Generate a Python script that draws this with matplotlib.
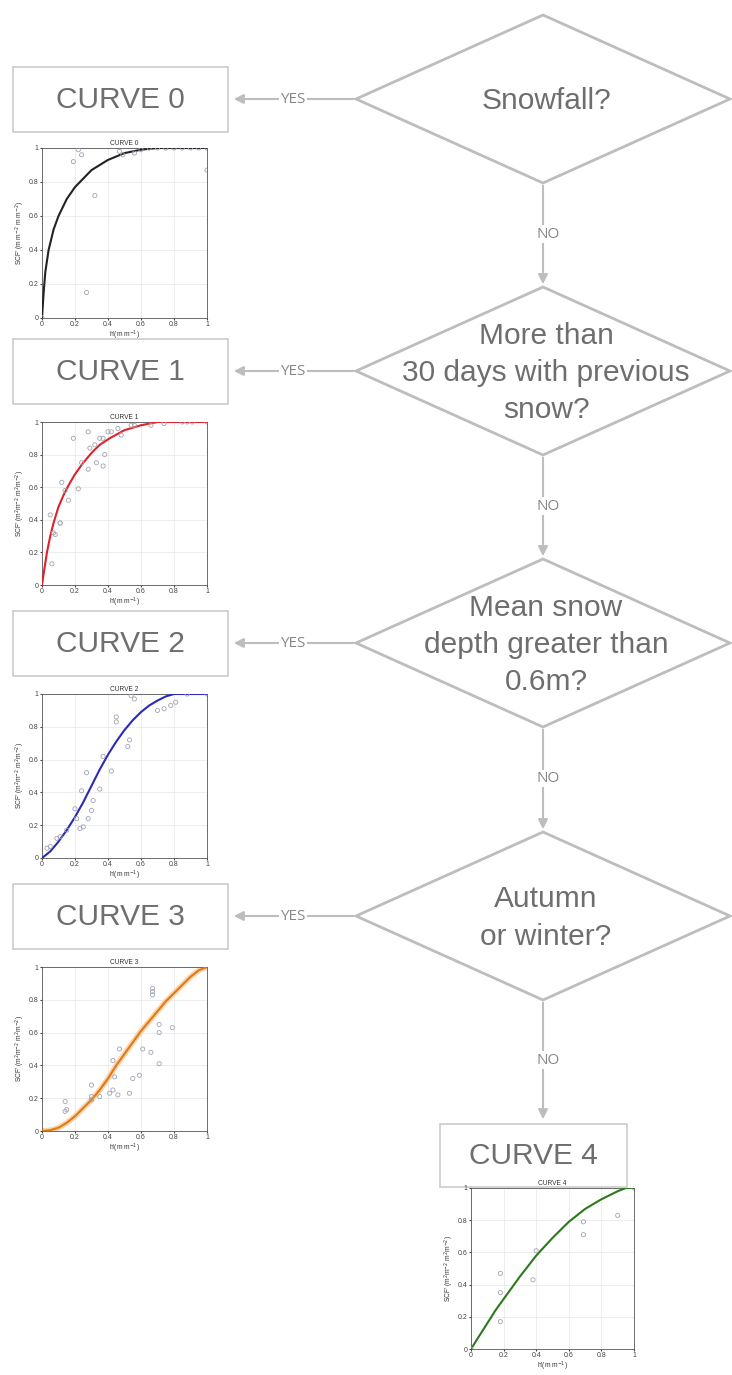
import matplotlib
matplotlib.use('Agg')
import matplotlib.pyplot as plt
from matplotlib.patches import Polygon, Rectangle

plt.rcParams['font.family'] = ['Liberation Sans', 'DejaVu Sans']

W, H = 732, 1375

# flowchart texts
questions = ['Snowfall?', 'More than\n30 days with previous\nsnow?',
             'Mean snow\ndepth greater than\n0.6m?', 'Autumn\nor winter?']
curve_names = ['CURVE 0', 'CURVE 1', 'CURVE 2', 'CURVE 3', 'CURVE 4']
line_colors = ['#222222', '#e0202a', '#2a2ab8', '#e07a18', '#2a7a1a']

# fitted curves
c0_x = [0, 0.01, 0.02, 0.04, 0.07, 0.1, 0.15, 0.2, 0.25, 0.3, 0.35, 0.4, 0.5, 0.6, 0.7, 1.0]
c0_y = [0, 0.15, 0.27, 0.4, 0.52, 0.6, 0.7, 0.77, 0.82, 0.87, 0.9, 0.93, 0.97, 0.99, 1.0, 1.0]
c1_x = [0, 0.01, 0.03, 0.05, 0.07, 0.1, 0.13, 0.16, 0.2, 0.25, 0.3, 0.35, 0.41, 0.5, 0.6, 0.7, 0.8, 1.0]
c1_y = [0, 0.07, 0.2, 0.3, 0.38, 0.48, 0.55, 0.61, 0.68, 0.75, 0.81, 0.86, 0.9, 0.95, 0.98, 1.0, 1.0, 1.0]
c2_x = [0, 0.05, 0.1, 0.15, 0.2, 0.25, 0.3, 0.35, 0.4, 0.45, 0.5, 0.55, 0.6, 0.65, 0.7, 0.75, 0.8, 0.85, 1.0]
c2_y = [0.0, 0.04, 0.1, 0.17, 0.25, 0.34, 0.44, 0.54, 0.63, 0.71, 0.78, 0.84, 0.89, 0.93, 0.96, 0.985, 1.0, 1.0, 1.0]
c3_x = [0, 0.05, 0.1, 0.15, 0.2, 0.25, 0.3, 0.35, 0.4, 0.45, 0.5, 0.55, 0.6, 0.65, 0.7, 0.75, 0.8, 0.85, 0.9, 0.95, 1.0]
c3_y = [0, 0.005, 0.02, 0.05, 0.09, 0.14, 0.19, 0.25, 0.32, 0.4, 0.47, 0.54, 0.61, 0.67, 0.73, 0.79, 0.84, 0.89, 0.94, 0.98, 1.0]
c4_x = [0, 0.05, 0.1, 0.15, 0.2, 0.25, 0.3, 0.4, 0.5, 0.6, 0.7, 0.8, 0.9, 0.95, 1.0]
c4_y = [0, 0.08, 0.16, 0.24, 0.31, 0.38, 0.45, 0.58, 0.69, 0.79, 0.87, 0.93, 0.98, 1.0, 1.0]

# observations
s0_x = [0, 0.19, 0.22, 0.24, 0.32, 0.27, 0.47, 0.49, 0.56, 0.6, 0.65, 0.7, 0.75, 0.8, 0.85, 0.9, 0.95, 1.0, 1.0]
s0_y = [0, 0.92, 0.99, 0.96, 0.72, 0.15, 0.98, 0.96, 0.97, 0.99, 1.0, 1.0, 1.0, 1.0, 1.0, 1.0, 1.0, 1.0, 0.87]
s1_x = [0.06, 0.08, 0.11, 0.05, 0.07, 0.11, 0.12, 0.14, 0.16, 0.19, 0.22, 0.24, 0.28, 0.28, 0.29, 0.32, 0.33,
        0.35, 0.37, 0.38, 0.37, 0.4, 0.42, 0.46, 0.48, 0.54, 0.56, 0.66, 0.74, 0.85, 0.88, 0.91, 1.0]
s1_y = [0.13, 0.31, 0.38, 0.43, 0.32, 0.38, 0.63, 0.58, 0.52, 0.9, 0.59, 0.75, 0.94, 0.71, 0.84, 0.86, 0.75,
        0.9, 0.9, 0.8, 0.73, 0.94, 0.94, 0.96, 0.92, 0.98, 0.98, 0.98, 0.99, 1.0, 1.0, 1.0, 1.0]
s2_x = [0.54, 0.56, 0.45, 0.45, 0.52, 0.53, 0.37, 0.42, 0.27, 0.24, 0.35, 0.31, 0.3, 0.2, 0.21, 0.28, 0.23,
        0.25, 0.11, 0.09, 0.05, 0.03, 0.7, 0.74, 0.78, 0.81, 0.88, 1.0, 0.15]
s2_y = [0.99, 0.97, 0.86, 0.83, 0.68, 0.72, 0.62, 0.53, 0.52, 0.41, 0.42, 0.35, 0.29, 0.3, 0.24, 0.24, 0.18,
        0.19, 0.13, 0.12, 0.07, 0.06, 0.9, 0.91, 0.93, 0.95, 1.0, 1.0, 0.17]
s3_x = [0.67, 0.67, 0.67, 0.71, 0.71, 0.79, 0.61, 0.66, 0.71, 0.47, 0.43, 0.59, 0.55, 0.44, 0.3, 0.3, 0.3,
        0.35, 0.41, 0.43, 0.46, 0.53, 0.14, 0.15, 0.14]
s3_y = [0.87, 0.85, 0.83, 0.65, 0.6, 0.63, 0.5, 0.48, 0.41, 0.5, 0.43, 0.34, 0.32, 0.33, 0.28, 0.21, 0.19,
        0.21, 0.23, 0.25, 0.22, 0.23, 0.18, 0.13, 0.12]
s4_x = [0.0, 0.18, 0.18, 0.18, 0.38, 0.4, 0.69, 0.69, 0.9, 1.0]
s4_y = [0.0, 0.47, 0.35, 0.17, 0.43, 0.61, 0.79, 0.71, 0.83, 1.0]

curves = [(c0_x, c0_y), (c1_x, c1_y), (c2_x, c2_y), (c3_x, c3_y), (c4_x, c4_y)]
scatters = [(s0_x, s0_y), (s1_x, s1_y), (s2_x, s2_y), (s3_x, s3_y), (s4_x, s4_y)]
ylabels = ["SCF' (m m$^{-2}$ m m$^{-2}$)"] + ["SCF' (m$^2$m$^{-2}$ m$^2$m$^{-2}$)"] * 4
ticks = [0, 0.2, 0.4, 0.6, 0.8, 1]
tick_labels = ['0', '0.2', '0.4', '0.6', '0.8', '1']

fig = plt.figure(figsize=(W / 100, H / 100), dpi=100)
ax = fig.add_axes([0, 0, 1, 1])
ax.set_xlim(0, W)
ax.set_ylim(H, 0)
ax.axis('off')

grey = '#bdbdbd'
txt = '#6e6e6e'

# diamonds
d_cx, d_half_w, d_half_h = 543, 187, 84
d_cy = [99, 371, 643, 916]
for q, cy in zip(questions, d_cy):
    pts = [(d_cx, cy - d_half_h), (d_cx + d_half_w, cy), (d_cx, cy + d_half_h), (d_cx - d_half_w, cy)]
    ax.add_patch(Polygon(pts, closed=True, fill=False, ec=grey, lw=2))
    ax.text(d_cx + 3, cy + 2, q, ha='center', va='center', fontsize=21.5, color=txt, linespacing=1.42)

# left boxes
box_x0, box_x1 = 13, 228
for name, cy in zip(curve_names[:4], d_cy):
    ax.add_patch(Rectangle((box_x0, cy - 32), box_x1 - box_x0, 65, fill=False, ec='#cccccc', lw=1.2))
    ax.text((box_x0 + box_x1) / 2, cy + 1, name, ha='center', va='center', fontsize=21.5, color=txt)
    # YES arrow
    ax.annotate('', xy=(box_x1 + 3, cy), xytext=(d_cx - d_half_w, cy),
                arrowprops=dict(arrowstyle='-|>', color=grey, lw=1.5, mutation_scale=14))
    ax.text(293, cy, 'YES', ha='center', va='center', fontsize=11, color='#888888',
            family=['Open Sans', 'DejaVu Sans'],
            bbox=dict(fc='white', ec='none', pad=1))

# bottom box
ax.add_patch(Rectangle((440, 1124), 187, 63, fill=False, ec='#cccccc', lw=1.2))
ax.text(533, 1156, curve_names[4], ha='center', va='center', fontsize=21.5, color=txt)

# NO arrows
no_targets = [d_cy[1] - d_half_h, d_cy[2] - d_half_h, d_cy[3] - d_half_h, 1122]
for cy, target in zip(d_cy, no_targets):
    start = cy + d_half_h
    ax.annotate('', xy=(d_cx, target), xytext=(d_cx, start),
                arrowprops=dict(arrowstyle='-|>', color=grey, lw=1.5, mutation_scale=14))
    ax.text(d_cx + 5, (start + target) / 2 - 1, 'NO', ha='center', va='center', fontsize=11,
            color='#888888', family=['Open Sans', 'DejaVu Sans'],
            bbox=dict(fc='white', ec='none', pad=1))

# small plots, pixel boxes (left, top, right, bottom)
plot_boxes = [(42, 148, 207, 318), (42, 422, 207, 585), (42, 694, 207, 858),
              (42, 967, 207, 1131), (471, 1188, 634, 1349)]

for i, (l, t, r, b) in enumerate(plot_boxes):
    sub = fig.add_axes([l / W, 1 - b / H, (r - l) / W, (b - t) / H])
    cx, cy = curves[i]
    sx, sy = scatters[i]
    if i == 3:
        sub.plot(cx, cy, color='#fbd3a8', lw=4, zorder=2)
    sub.plot(cx, cy, color=line_colors[i], lw=1.5, zorder=3)
    sub.scatter(sx, sy, s=9, facecolors='none', edgecolors='#a0a4b4', linewidths=0.6, zorder=4)
    sub.set_xlim(0, 1)
    sub.set_ylim(0, 1)
    sub.set_xticks(ticks)
    sub.set_yticks(ticks)
    sub.set_xticklabels(tick_labels)
    sub.set_yticklabels(tick_labels)
    sub.tick_params(labelsize=5, length=1.5, pad=1, colors='#444444')
    sub.grid(True, color='#e6e6e6', lw=0.5)
    for sp in sub.spines.values():
        sp.set_color('#555555')
        sp.set_linewidth(0.6)
    sub.set_title(curve_names[i], fontsize=4.8, pad=2, color='#333333')
    sub.set_ylabel(ylabels[i], fontsize=4.8, labelpad=1, color='#333333')
    sub.set_xlabel("h'(m m$^{-1}$)", fontsize=4.8, labelpad=0.5, color='#333333')

fig.savefig('out.png', dpi=100, facecolor='white')
